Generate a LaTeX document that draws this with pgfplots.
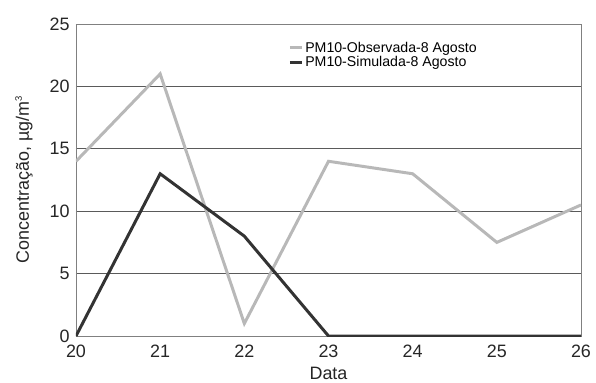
\documentclass[border=0pt]{standalone}
\usepackage{fontspec}
\setmainfont{Liberation Sans}
\usepackage{pgfplots}
\pgfplotsset{compat=1.18}
\definecolor{obs}{HTML}{B8B8B8}
\definecolor{sim}{HTML}{333333}
\definecolor{gridc}{HTML}{5A5A5A}
\definecolor{axc}{HTML}{808080}
\begin{document}
\begin{tikzpicture}
\begin{axis}[
  scale only axis,
  width=505bp, height=312bp,
  xmin=20, xmax=26, ymin=0, ymax=25,
  xtick={20,21,22,23,24,25,26},
  ytick={0,5,10,15,20,25},
  major tick length=0pt,
  ymajorgrids,
  grid style={gridc, line width=0.9pt},
  axis line style={axc, line width=1pt},
  /pgf/number format/assume math mode=true,
  ticklabel style={font=\fontsize{18}{20}\selectfont, text=black!85},
  label style={font=\fontsize{18}{20}\selectfont, text=black!85},
  xticklabel style={yshift=-5pt},
  yticklabel style={xshift=-3pt},
  xlabel={Data},
  ylabel={Concentração, µg/m\raisebox{0.75ex}{\fontsize{9.5}{10}\selectfont 3}},
  xlabel style={yshift=-3pt},
  ylabel style={yshift=10pt},
  legend style={draw=none, fill=none, at={(0.42,0.95)}, anchor=north west,
    font=\fontsize{14.2}{16}\selectfont, row sep=-1pt, inner sep=0pt},
  legend cell align=left,
  legend image code/.code={\draw[#1] (0bp,0bp) -- (12bp,0bp);},
]
\addplot[obs, line width=3pt] coordinates {(20,14) (21,21) (22,1) (23,14) (24,13) (25,7.5) (26,10.5)};
\addlegendentry{PM10-Observada-8 Agosto}
\addplot[sim, line width=3pt] coordinates {(20,0) (21,13) (22,8) (23,0) (24,0) (25,0) (26,0)};
\addlegendentry{PM10-Simulada-8 Agosto}
\end{axis}
\path ([xshift=-76bp,yshift=-44bp]current axis.south west) rectangle ([xshift=15bp,yshift=24bp]current axis.north east);
\end{tikzpicture}
\end{document}
